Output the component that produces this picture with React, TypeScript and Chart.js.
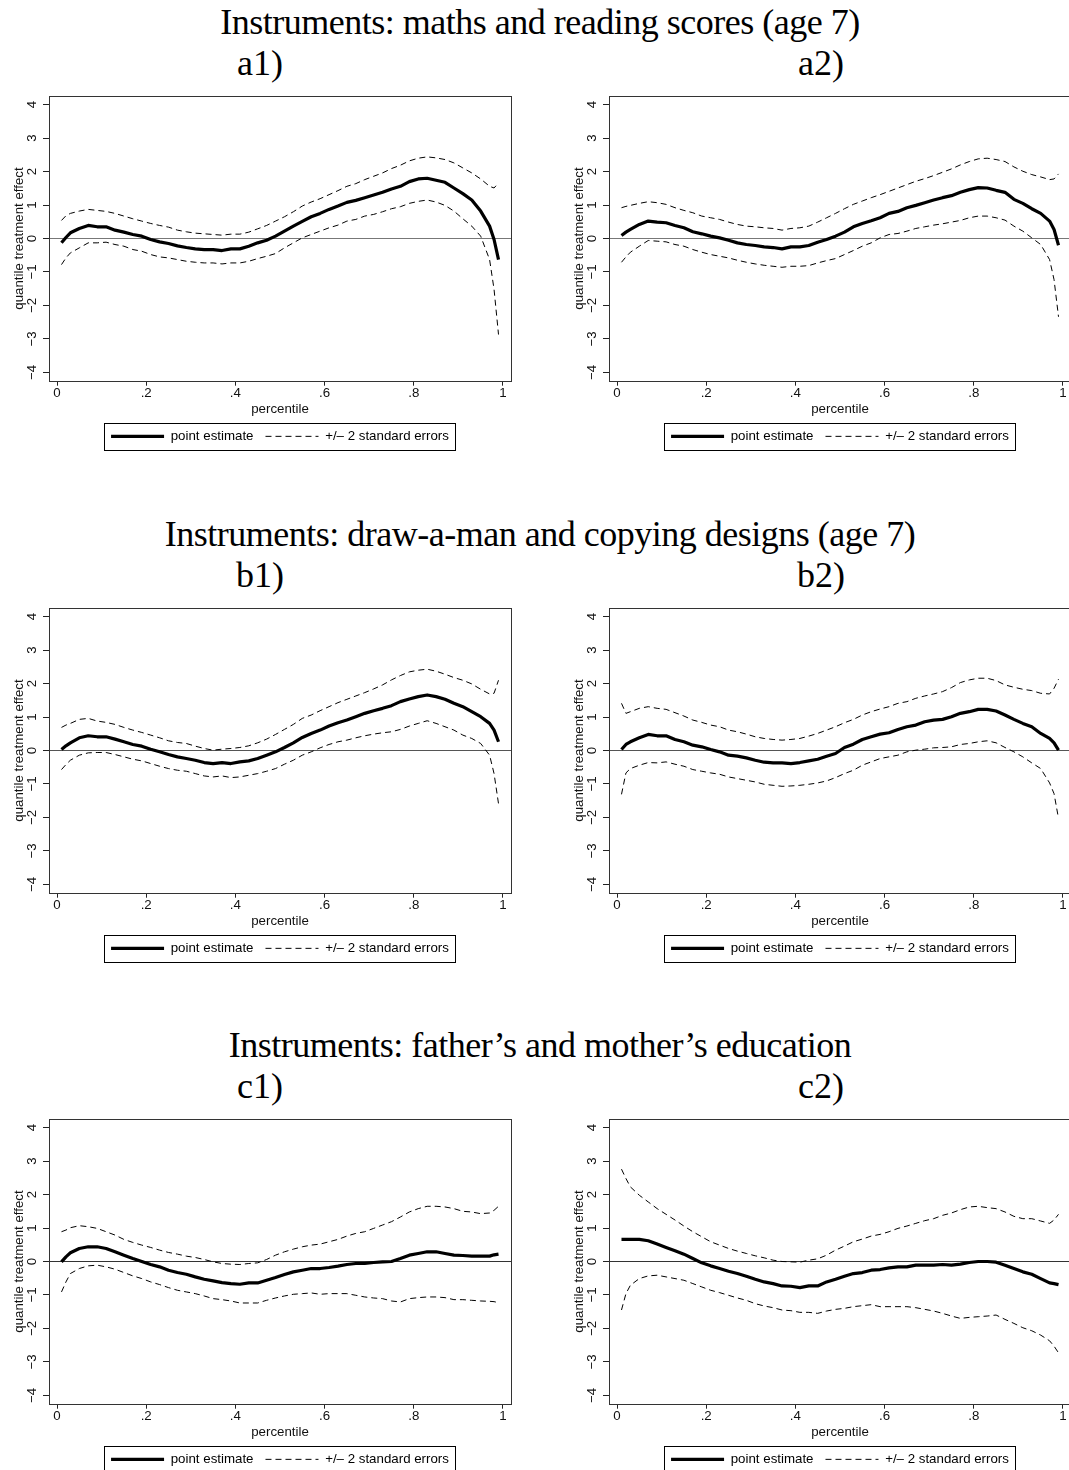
import React, { useEffect, useRef } from "react";
import { Chart, registerables } from "chart.js";
Chart.register(...registerables);

// percentile grid (x values)
const PCT = [0.01, 0.02, 0.03, 0.05, 0.07, 0.09, 0.11, 0.13, 0.15, 0.17, 0.19, 0.21, 0.23, 0.25, 0.27, 0.29, 0.31, 0.33, 0.35, 0.37, 0.39, 0.41, 0.43, 0.45, 0.47, 0.49, 0.51, 0.53, 0.55, 0.57, 0.59, 0.61, 0.63, 0.65, 0.67, 0.69, 0.71, 0.73, 0.75, 0.77, 0.79, 0.81, 0.83, 0.85, 0.87, 0.89, 0.91, 0.93, 0.95, 0.97, 0.98, 0.99];

// a1
const A1_EST = [-0.13, 0.03, 0.17, 0.30, 0.39, 0.35, 0.35, 0.25, 0.19, 0.12, 0.07, -0.03, -0.10, -0.15, -0.22, -0.27, -0.31, -0.33, -0.33, -0.36, -0.31, -0.31, -0.23, -0.13, -0.05, 0.07, 0.22, 0.37, 0.51, 0.65, 0.75, 0.87, 0.97, 1.08, 1.14, 1.22, 1.30, 1.38, 1.48, 1.56, 1.70, 1.78, 1.80, 1.74, 1.68, 1.51, 1.34, 1.15, 0.82, 0.37, -0.03, -0.63];
const A1_UP = [0.54, 0.68, 0.75, 0.82, 0.87, 0.84, 0.81, 0.75, 0.67, 0.59, 0.52, 0.45, 0.39, 0.34, 0.25, 0.20, 0.16, 0.14, 0.12, 0.10, 0.13, 0.13, 0.19, 0.29, 0.39, 0.52, 0.65, 0.80, 0.97, 1.09, 1.19, 1.31, 1.43, 1.56, 1.64, 1.76, 1.86, 1.96, 2.09, 2.19, 2.32, 2.40, 2.44, 2.41, 2.36, 2.26, 2.11, 1.96, 1.78, 1.56, 1.51, 1.66];
const A1_LO = [-0.78, -0.58, -0.43, -0.28, -0.13, -0.13, -0.11, -0.18, -0.23, -0.33, -0.38, -0.48, -0.55, -0.58, -0.63, -0.68, -0.71, -0.73, -0.73, -0.76, -0.73, -0.73, -0.68, -0.60, -0.53, -0.45, -0.28, -0.13, 0.02, 0.12, 0.22, 0.32, 0.40, 0.52, 0.57, 0.67, 0.72, 0.80, 0.89, 0.95, 1.05, 1.11, 1.15, 1.09, 0.99, 0.82, 0.59, 0.37, 0.07, -0.63, -1.52, -2.87];

// a2
const A2_EST = [0.09, 0.19, 0.27, 0.42, 0.52, 0.49, 0.47, 0.39, 0.32, 0.20, 0.14, 0.07, 0.02, -0.05, -0.13, -0.18, -0.21, -0.25, -0.27, -0.31, -0.25, -0.25, -0.21, -0.11, -0.03, 0.07, 0.19, 0.35, 0.45, 0.53, 0.62, 0.75, 0.81, 0.92, 0.99, 1.07, 1.15, 1.22, 1.28, 1.38, 1.46, 1.52, 1.51, 1.44, 1.38, 1.17, 1.05, 0.89, 0.75, 0.52, 0.27, -0.20];
const A2_UP = [0.92, 0.96, 0.99, 1.05, 1.10, 1.07, 1.02, 0.92, 0.84, 0.77, 0.67, 0.62, 0.57, 0.49, 0.42, 0.37, 0.35, 0.32, 0.30, 0.25, 0.30, 0.32, 0.37, 0.49, 0.62, 0.75, 0.89, 1.02, 1.12, 1.22, 1.31, 1.41, 1.51, 1.61, 1.71, 1.79, 1.88, 1.98, 2.08, 2.20, 2.30, 2.38, 2.40, 2.36, 2.30, 2.14, 2.01, 1.91, 1.84, 1.76, 1.78, 1.93];
const A2_LO = [-0.71, -0.55, -0.41, -0.23, -0.06, -0.08, -0.10, -0.18, -0.23, -0.33, -0.41, -0.48, -0.53, -0.58, -0.65, -0.71, -0.76, -0.80, -0.83, -0.86, -0.83, -0.83, -0.81, -0.73, -0.66, -0.60, -0.48, -0.36, -0.23, -0.13, 0.02, 0.12, 0.15, 0.22, 0.30, 0.35, 0.40, 0.44, 0.49, 0.54, 0.62, 0.67, 0.67, 0.62, 0.55, 0.37, 0.22, 0.02, -0.18, -0.63, -1.23, -2.34];

// b1
const B1_EST = [0.03, 0.14, 0.23, 0.38, 0.44, 0.41, 0.41, 0.34, 0.26, 0.18, 0.13, 0.04, -0.04, -0.12, -0.19, -0.24, -0.29, -0.36, -0.39, -0.36, -0.39, -0.34, -0.31, -0.24, -0.14, -0.04, 0.09, 0.23, 0.39, 0.51, 0.61, 0.73, 0.83, 0.91, 1.01, 1.11, 1.19, 1.26, 1.34, 1.46, 1.54, 1.61, 1.66, 1.61, 1.53, 1.41, 1.31, 1.16, 1.01, 0.81, 0.61, 0.26];
const B1_UP = [0.69, 0.76, 0.81, 0.93, 0.96, 0.88, 0.84, 0.78, 0.69, 0.61, 0.54, 0.46, 0.38, 0.29, 0.24, 0.21, 0.13, 0.06, 0.01, 0.04, 0.06, 0.09, 0.14, 0.23, 0.34, 0.48, 0.63, 0.78, 0.96, 1.06, 1.19, 1.31, 1.43, 1.53, 1.63, 1.73, 1.84, 1.96, 2.11, 2.24, 2.35, 2.40, 2.43, 2.37, 2.28, 2.18, 2.10, 1.99, 1.83, 1.69, 1.71, 2.10];
const B1_LO = [-0.57, -0.42, -0.29, -0.14, -0.07, -0.06, -0.06, -0.12, -0.19, -0.26, -0.31, -0.39, -0.47, -0.54, -0.59, -0.62, -0.69, -0.76, -0.79, -0.76, -0.81, -0.79, -0.74, -0.69, -0.62, -0.54, -0.41, -0.29, -0.14, -0.04, 0.08, 0.18, 0.26, 0.31, 0.38, 0.44, 0.49, 0.53, 0.56, 0.63, 0.73, 0.81, 0.89, 0.81, 0.71, 0.61, 0.46, 0.36, 0.21, -0.14, -0.69, -1.59];

// b2
const B2_EST = [0.03, 0.18, 0.26, 0.38, 0.48, 0.44, 0.44, 0.33, 0.26, 0.16, 0.11, 0.03, -0.04, -0.14, -0.17, -0.22, -0.29, -0.35, -0.37, -0.37, -0.39, -0.36, -0.31, -0.26, -0.17, -0.09, 0.09, 0.19, 0.33, 0.41, 0.49, 0.53, 0.63, 0.71, 0.76, 0.86, 0.91, 0.93, 1.01, 1.11, 1.16, 1.23, 1.23, 1.18, 1.06, 0.93, 0.81, 0.71, 0.51, 0.36, 0.23, 0.01];
const B2_UP = [1.41, 1.11, 1.16, 1.26, 1.31, 1.26, 1.23, 1.13, 1.03, 0.91, 0.84, 0.76, 0.71, 0.61, 0.56, 0.49, 0.41, 0.36, 0.33, 0.31, 0.33, 0.36, 0.43, 0.51, 0.61, 0.71, 0.83, 0.93, 1.06, 1.16, 1.24, 1.31, 1.41, 1.46, 1.56, 1.63, 1.69, 1.76, 1.88, 2.03, 2.11, 2.16, 2.16, 2.09, 1.96, 1.89, 1.83, 1.79, 1.71, 1.69, 1.86, 2.13];
const B2_LO = [-1.31, -0.67, -0.54, -0.44, -0.36, -0.37, -0.34, -0.41, -0.47, -0.57, -0.62, -0.67, -0.71, -0.79, -0.84, -0.89, -0.94, -1.01, -1.04, -1.07, -1.06, -1.04, -1.01, -0.97, -0.91, -0.81, -0.69, -0.59, -0.44, -0.34, -0.24, -0.19, -0.14, -0.04, 0.01, 0.04, 0.08, 0.09, 0.11, 0.18, 0.21, 0.26, 0.29, 0.23, 0.09, -0.04, -0.19, -0.37, -0.54, -0.97, -1.29, -2.03];

// c1
const C1_EST = [-0.01, 0.14, 0.26, 0.39, 0.44, 0.44, 0.39, 0.29, 0.19, 0.09, 0.00, -0.09, -0.16, -0.26, -0.33, -0.38, -0.46, -0.53, -0.58, -0.63, -0.66, -0.68, -0.64, -0.64, -0.56, -0.48, -0.39, -0.31, -0.26, -0.21, -0.21, -0.18, -0.14, -0.09, -0.06, -0.06, -0.03, -0.01, 0.00, 0.09, 0.19, 0.24, 0.29, 0.29, 0.24, 0.19, 0.18, 0.16, 0.16, 0.16, 0.20, 0.22];
const C1_UP = [0.89, 0.94, 1.01, 1.07, 1.04, 0.99, 0.89, 0.79, 0.66, 0.57, 0.49, 0.42, 0.34, 0.27, 0.22, 0.16, 0.12, 0.06, -0.01, -0.06, -0.08, -0.09, -0.06, -0.04, 0.06, 0.19, 0.29, 0.37, 0.44, 0.49, 0.52, 0.59, 0.66, 0.76, 0.84, 0.89, 0.99, 1.09, 1.19, 1.33, 1.48, 1.58, 1.65, 1.65, 1.63, 1.58, 1.50, 1.48, 1.43, 1.45, 1.53, 1.65];
const C1_LO = [-0.91, -0.61, -0.36, -0.21, -0.13, -0.11, -0.16, -0.23, -0.33, -0.43, -0.51, -0.61, -0.69, -0.78, -0.86, -0.91, -0.96, -1.03, -1.11, -1.14, -1.18, -1.24, -1.24, -1.24, -1.16, -1.09, -1.03, -0.98, -0.96, -0.94, -0.98, -0.96, -0.96, -0.96, -1.01, -1.06, -1.09, -1.11, -1.18, -1.21, -1.11, -1.08, -1.06, -1.06, -1.08, -1.14, -1.14, -1.16, -1.18, -1.19, -1.20, -1.23];

// c2
const C2_EST = [0.66, 0.66, 0.66, 0.66, 0.62, 0.52, 0.42, 0.32, 0.22, 0.09, -0.04, -0.13, -0.21, -0.29, -0.36, -0.44, -0.53, -0.61, -0.66, -0.73, -0.74, -0.78, -0.73, -0.73, -0.61, -0.53, -0.44, -0.36, -0.33, -0.26, -0.24, -0.19, -0.16, -0.16, -0.11, -0.11, -0.11, -0.09, -0.11, -0.08, -0.03, 0.00, 0.00, -0.02, -0.11, -0.21, -0.31, -0.38, -0.51, -0.64, -0.66, -0.69];
const C2_UP = [2.76, 2.48, 2.23, 1.98, 1.78, 1.58, 1.41, 1.24, 1.06, 0.89, 0.74, 0.59, 0.49, 0.39, 0.31, 0.24, 0.17, 0.11, 0.04, 0.00, -0.01, -0.02, 0.04, 0.08, 0.19, 0.34, 0.46, 0.59, 0.67, 0.76, 0.81, 0.89, 0.99, 1.06, 1.14, 1.22, 1.28, 1.38, 1.45, 1.55, 1.63, 1.65, 1.61, 1.58, 1.48, 1.35, 1.28, 1.28, 1.21, 1.14, 1.24, 1.41];
const C2_LO = [-1.45, -0.96, -0.71, -0.51, -0.43, -0.41, -0.46, -0.51, -0.56, -0.66, -0.76, -0.86, -0.93, -1.01, -1.09, -1.16, -1.26, -1.33, -1.38, -1.45, -1.47, -1.52, -1.52, -1.55, -1.48, -1.43, -1.40, -1.35, -1.32, -1.29, -1.35, -1.35, -1.35, -1.35, -1.38, -1.43, -1.48, -1.55, -1.63, -1.70, -1.67, -1.65, -1.63, -1.60, -1.73, -1.85, -1.98, -2.07, -2.20, -2.37, -2.53, -2.73];

const X_TICKS = [0, 0.2, 0.4, 0.6, 0.8, 1];
const X_TICK_LABELS = ["0", ".2", ".4", ".6", ".8", "1"];
const Y_TICKS = [-4, -3, -2, -1, 0, 1, 2, 3, 4];
const Y_TICK_LABELS = ["\u22124", "\u22123", "\u22122", "\u22121", "0", "1", "2", "3", "4"];
const X_TITLE = "percentile";
const Y_TITLE = "quantile treatment effect";
const LEGEND_LABELS = ["point estimate", "+/\u2013 2 standard errors"];
const ROW_TITLES = [
  "Instruments: maths and reading scores (age 7)",
  "Instruments: draw-a-man and copying designs (age 7)",
  "Instruments: father\u2019s and mother\u2019s education",
];
const PANEL_LABELS = [["a1)", "a2)"], ["b1)", "b2)"], ["c1)", "c2)"]];

const SANS = "'Liberation Sans', Arial, Helvetica, sans-serif";
const SERIF = "'Liberation Serif', 'Times New Roman', serif";
const FS = 13.3;
const CW = 530;
const CH = 363;
const Y_AXIS_W = 49;
const AREA_W = 462;

const framePlugin = {
  id: "frame",
  afterDraw(chart: any) {
    const { ctx, chartArea: a } = chart;
    ctx.save();
    ctx.strokeStyle = "#333";
    ctx.lineWidth = 1;
    ctx.setLineDash([]);
    const l = Math.round(a.left) + 0.5;
    const t = Math.round(a.top) + 0.5;
    const r = Math.round(a.right) + 0.5;
    const b = Math.round(a.bottom) + 0.5;
    ctx.strokeRect(l, t, r - l, b - t);
    const lg = chart.legend;
    if (lg && lg.lineWidths) {
      const pad = lg.options.labels.padding;
      const start = (lg.left + pad + lg.right - lg.lineWidths[0]) / 2;
      const end = start + lg.lineWidths[0] - pad;
      const cy = lg.top + pad + FS / 2;
      const x0 = Math.round(start - 7) + 0.5;
      const x1 = Math.round(end + 6) + 0.5;
      const y0 = Math.round(cy - 13.4) + 0.5;
      const y1 = Math.round(cy + 13.4) + 0.5;
      ctx.strokeStyle = "#000";
      ctx.strokeRect(x0, y0, x1 - x0, y1 - y0);
    }
    ctx.restore();
  },
};

function Panel(props: { est: number[]; up: number[]; lo: number[]; left: number; top: number; zeroColor: string }) {
  const ref = useRef<HTMLCanvasElement>(null);
  useEffect(() => {
    const font = { family: SANS, size: FS };
    const mk = (arr: number[]) => PCT.map((x, i) => ({ x, y: arr[i] }));
    const chart = new Chart(ref.current as HTMLCanvasElement, {
      type: "line",
      data: {
        datasets: [
          { label: LEGEND_LABELS[0], data: mk(props.est), borderColor: "#000", borderWidth: 3.2, pointRadius: 0, pointStyle: "line", tension: 0, borderJoinStyle: "round" },
          { label: LEGEND_LABELS[1], data: mk(props.up), borderColor: "#000", borderWidth: 1, borderDash: [6, 4], pointRadius: 0, pointStyle: "line", tension: 0 },
          { label: LEGEND_LABELS[1], data: mk(props.lo), borderColor: "#000", borderWidth: 1, borderDash: [6, 4], pointRadius: 0, pointStyle: "line", tension: 0 },
        ],
      } as any,
      options: {
        responsive: false,
        animation: false,
        devicePixelRatio: 1,
        layout: { padding: { top: 6.3, left: 0, right: CW - Y_AXIS_W - AREA_W, bottom: 0 } },
        plugins: {
          tooltip: { enabled: false },
          legend: {
            position: "bottom",
            fullSize: false,
            align: "center",
            labels: {
              usePointStyle: true,
              pointStyleWidth: 53,
              boxWidth: 53,
              padding: 12,
              color: "#000",
              font,
              generateLabels: (c: any) =>
                c.data.datasets.slice(0, 2).map((ds: any, i: number) => ({
                  text: ds.label,
                  fillStyle: "rgba(0,0,0,0)",
                  strokeStyle: "#000",
                  lineWidth: ds.borderWidth,
                  lineDash: ds.borderDash || [],
                  pointStyle: "line",
                  hidden: false,
                  datasetIndex: i,
                  fontColor: "#000",
                })),
            },
          },
        },
        scales: {
          x: {
            type: "linear",
            min: -0.018,
            max: 1.018,
            afterBuildTicks: (s: any) => {
              s.ticks = X_TICKS.map((v) => ({ value: v }));
            },
            afterFit: (s: any) => {
              s.height = 37;
              s.paddingLeft = 0;
              s.paddingRight = 0;
            },
            ticks: {
              autoSkip: false,
              maxRotation: 0,
              minRotation: 0,
              padding: 0,
              color: "#111",
              font,
              callback: (_v: any, i: number) => X_TICK_LABELS[i],
            },
            grid: { display: true, drawOnChartArea: false, drawTicks: true, tickLength: 5, tickColor: "#222", tickWidth: 1 },
            border: { display: false },
            title: { display: true, text: X_TITLE, color: "#111", font, padding: { top: 0, bottom: 0 } },
          },
          y: {
            type: "linear",
            min: -4.25,
            max: 4.25,
            afterBuildTicks: (s: any) => {
              s.ticks = Y_TICKS.map((v) => ({ value: v }));
            },
            afterFit: (s: any) => {
              s.width = Y_AXIS_W;
              s.paddingTop = 0;
              s.paddingBottom = 0;
            },
            ticks: {
              autoSkip: false,
              minRotation: 90,
              maxRotation: 90,
              crossAlign: "center",
              padding: 3,
              color: "#111",
              font,
              callback: (_v: any, i: number) => Y_TICK_LABELS[i],
            },
            grid: {
              display: true,
              drawOnChartArea: true,
              drawTicks: true,
              tickLength: 6,
              tickColor: "#222",
              lineWidth: 1,
              color: (c: any) => (c.tick && c.tick.value === 0 ? props.zeroColor : "rgba(0,0,0,0)"),
            },
            border: { display: false },
            title: { display: true, text: Y_TITLE, color: "#111", font, padding: { top: 11, bottom: 0 } },
          },
        },
      } as any,
      plugins: [framePlugin],
    });
    return () => chart.destroy();
  }, []);
  return (
    <canvas
      ref={ref}
      width={CW}
      height={CH}
      style={{ position: "absolute", left: props.left, top: props.top, width: CW, height: CH }}
    />
  );
}

const PANELS = [
  [
    { est: A1_EST, up: A1_UP, lo: A1_LO },
    { est: A2_EST, up: A2_UP, lo: A2_LO },
  ],
  [
    { est: B1_EST, up: B1_UP, lo: B1_LO },
    { est: B2_EST, up: B2_UP, lo: B2_LO },
  ],
  [
    { est: C1_EST, up: C1_UP, lo: C1_LO },
    { est: C2_EST, up: C2_UP, lo: C2_LO },
  ],
];

const ROW_TOP = [90, 602, 1113];
const ROW_TEXT_OFFSET = [0, 511.5, 1023];
const ZERO_COLORS = ["#777", "#555", "#333"];

export default function App() {
  return (
    <div
      style={{
        position: "absolute",
        left: 0,
        top: 0,
        width: 1069,
        height: 1470,
        overflow: "hidden",
        background: "#fff",
      }}
    >
      {ROW_TITLES.map((t, r) => (
        <React.Fragment key={r}>
          <div
            style={{
              position: "absolute",
              left: 0,
              top: 2.4 + ROW_TEXT_OFFSET[r],
              width: 1080,
              textAlign: "center",
              fontFamily: SERIF,
              fontSize: 36,
              lineHeight: "40px",
              letterSpacing: "-0.5px",
              color: "#000",
              whiteSpace: "nowrap",
            }}
          >
            {t}
          </div>
          {PANEL_LABELS[r].map((p, c) => (
            <div
              key={p}
              style={{
                position: "absolute",
                left: c === 0 ? 160 : 721,
                top: 43.4 + ROW_TEXT_OFFSET[r],
                width: 200,
                textAlign: "center",
                fontFamily: SERIF,
                fontSize: 36,
                lineHeight: "40px",
                color: "#000",
              }}
            >
              {p}
            </div>
          ))}
          {PANELS[r].map((d, c) => (
            <Panel
              key={c}
              est={d.est}
              up={d.up}
              lo={d.lo}
              left={c === 0 ? 0 : 560}
              top={ROW_TOP[r]}
              zeroColor={ZERO_COLORS[r]}
            />
          ))}
        </React.Fragment>
      ))}
    </div>
  );
}
